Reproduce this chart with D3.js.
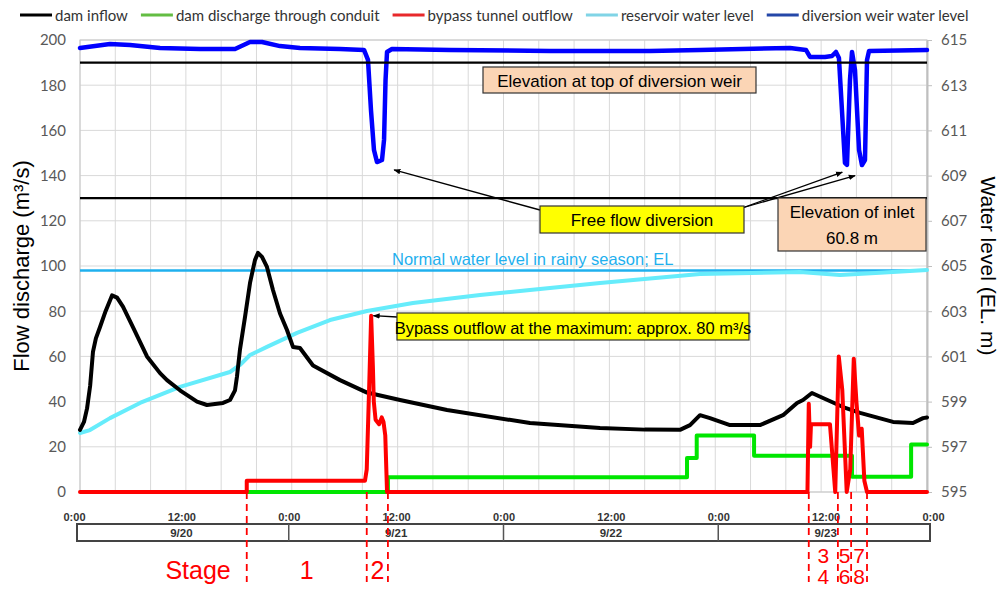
<!DOCTYPE html>
<html>
<head>
<meta charset="utf-8">
<script src="https://cdn.jsdelivr.net/npm/d3@7"></script>
<style>
  body { margin: 0; background: #fff; }
  svg { display: block; }
</style>
</head>
<body>
<svg id="chart" width="1004" height="589"></svg>
<script>
// Hours are counted from 9/20 0:00.
// Flow series in m3/s, water levels in EL. m.
const damInflow = [
  [0, 27.5], [0.45, 31], [0.8, 37], [1.15, 47], [1.47, 62], [1.8, 68], [2.27, 73],
  [2.9, 80], [3.63, 87], [4.2, 86], [4.87, 82], [6.0, 73],
  [7.59, 60], [9.07, 52.6], [9.86, 49.5], [11.33, 45], [13.26, 40], [14.39, 38.5],
  [16.21, 39.4], [17.0, 40.7], [17.57, 45], [17.79, 51], [18.13, 63], [18.7, 77.4],
  [19.27, 92.5], [19.83, 102.6], [20.17, 105.8], [20.63, 104], [21.19, 99.6],
  [21.87, 89.4], [22.67, 79], [23.46, 71.7], [24.14, 64.2], [24.93, 63.7],
  [26.41, 56], [29.47, 49.5], [32.53, 44], [36.27, 40.7], [41.6, 36.3], [51.0, 30.5],
  [58.94, 28.3], [64.0, 27.6], [68.0, 27.5], [69.14, 29.6], [70.27, 34], [71.4, 32.7],
  [73.67, 29.6], [77.07, 29.6], [79.68, 34], [81.27, 39.4], [81.95, 40.7],
  [82.96, 43.8], [84.21, 41.6], [86.48, 37.6], [88.41, 35], [92.15, 31],
  [94.41, 30.5], [95.55, 32.7], [96, 33]
];

const conduitDischarge = [
  [18.9, 0], [34.9, 0], [34.9, 6.5], [68.8, 6.5], [68.8, 15], [69.9, 15], [69.9, 25],
  [76.4, 25], [76.4, 16], [87.5, 16], [87.5, 6.7], [94.2, 6.7], [94.2, 21], [96, 21]
];

const bypassOutflow = [
  [0, 0], [18.9, 0], [18.9, 5], [32.3, 5], [32.5, 10], [32.8, 50], [33.0, 78],
  [33.2, 55], [33.3, 40], [33.5, 32], [33.9, 30], [34.2, 33], [34.4, 31], [34.6, 25],
  [34.8, 0], [82.45, 0], [82.6, 39], [82.75, 20], [82.85, 30], [85.0, 30], [85.3, 15],
  [85.6, 0], [86.0, 60], [86.4, 45], [86.9, 0], [87.3, 10], [87.7, 59], [88.0, 40],
  [88.3, 25], [88.6, 28], [88.9, 5], [89.2, 0], [96, 0]
];

const reservoirLevel = [
  [0, 597.61], [1.13, 597.74], [3.4, 598.27], [6.8, 598.94], [11.33, 599.65],
  [17.0, 600.31], [18.13, 600.62], [19.27, 601.06], [21.19, 601.42], [24.6, 602.04],
  [28.33, 602.61], [32.53, 603.01], [37.74, 603.36], [45.34, 603.72], [51.0, 603.94],
  [58.94, 604.25], [70.27, 604.65], [81.6, 604.73], [86.14, 604.6], [90.67, 604.7],
  [96, 604.82]
];

const weirLevel = [
  [0, 614.65], [3.4, 614.82], [5.67, 614.78], [9.07, 614.65], [13.6, 614.6],
  [17.57, 614.6], [19.27, 614.91], [20.63, 614.91], [22.67, 614.73], [24.93, 614.65],
  [29.47, 614.6], [32.19, 614.56], [32.64, 614.12], [32.98, 611.9], [33.32, 610.13],
  [33.66, 609.6], [34.23, 609.69], [34.46, 610.58], [34.63, 613.23], [34.8, 614.47],
  [35.36, 614.6], [41.94, 614.56], [53.27, 614.51], [64.6, 614.51], [70.27, 614.56],
  [80.47, 614.65], [82.28, 614.56], [82.74, 614.25], [84.44, 614.25], [85.23, 614.29],
  [85.68, 614.47], [86.02, 614.2], [86.36, 611.9], [86.7, 609.56], [86.93, 609.47],
  [87.27, 613.23], [87.5, 614.47], [87.84, 613.67], [88.3, 610.13], [88.63, 609.47],
  [88.97, 609.69], [89.2, 614.12], [89.43, 614.51], [96, 614.56]
];

// Reference elevations (EL. m)
const weirCrestLevel = 614;
const inletLevel = 608;
const normalRainyLevel = 604.8;

// Axis ticks and labels
const flowTicks = [0, 20, 40, 60, 80, 100, 120, 140, 160, 180, 200];
const levelTicks = [595, 597, 599, 601, 603, 605, 607, 609, 611, 613, 615];
const timeTicks = [0, 12, 24, 36, 48, 60, 72, 84, 96];
const timeTickLabels = ["0:00", "12:00", "0:00", "12:00", "0:00", "12:00", "0:00", "12:00", "0:00"];
const dayNoons = [12, 36, 60, 84];
const dayLabels = ["9/20", "9/21", "9/22", "9/23"];
const dayBreaks = [24, 48, 72];

// Operation stages: boundaries (hours) and the stage numbers between them
const stageBounds = [18.9, 32.5, 34.9, 82.6, 85.9, 87.4, 89.2];
const stageTop = ["1", "2", "", "3", "5", "7"];
const stageBottom = ["", "", "", "4", "6", "8"];

const legendItems = [
  { label: "dam inflow", color: "#000000" },
  { label: "dam discharge through conduit", color: "#63bd43" },
  { label: "bypass tunnel outflow", color: "#e8282b" },
  { label: "reservoir water level", color: "#80d4e6" },
  { label: "diversion weir water level", color: "#2447a8" }
];

// ---- layout ----
const svg = d3.select("#chart");
const plotL = 80, plotR = 927, plotT = 40, plotB = 492;

const x = d3.scaleLinear().domain([0, 96]).range([plotL, plotR]);
const yQ = d3.scaleLinear().domain([0, 200]).range([plotB, plotT]);
const yEL = d3.scaleLinear().domain([595, 615]).range([plotB, plotT]);
const xTable = d3.scaleLinear().domain([0, 96]).range([74, 933]);

const sansA = "'Liberation Sans', Arial, sans-serif";
const sansC = "Lato, 'Open Sans', sans-serif";

const defs = svg.append("defs");
defs.append("marker")
  .attr("id", "arrowHead")
  .attr("viewBox", "0 0 10 10")
  .attr("refX", 9).attr("refY", 5)
  .attr("markerWidth", 7).attr("markerHeight", 7)
  .attr("markerUnits", "userSpaceOnUse")
  .attr("orient", "auto")
  .append("path").attr("d", "M0,1 L10,5 L0,9 Z").attr("fill", "#000");

// grid
const grid = svg.append("g");
grid.selectAll("line.v").data(d3.range(0, 97, 4)).join("line")
  .attr("x1", d => x(d)).attr("x2", d => x(d))
  .attr("y1", plotT).attr("y2", plotB)
  .attr("stroke", "#d9d9d9").attr("stroke-width", 1);
grid.selectAll("line.h").data(flowTicks).join("line")
  .attr("x1", plotL).attr("x2", plotR)
  .attr("y1", d => yQ(d)).attr("y2", d => yQ(d))
  .attr("stroke", "#d9d9d9").attr("stroke-width", 1);
svg.append("rect")
  .attr("x", plotL).attr("y", plotT)
  .attr("width", plotR - plotL).attr("height", plotB - plotT)
  .attr("fill", "none").attr("stroke", "#c8c8c8").attr("stroke-width", 1);

// axes
const leftAxis = svg.append("g")
  .attr("transform", `translate(${plotL},0)`)
  .call(d3.axisLeft(yQ).tickValues(flowTicks).tickSize(0).tickPadding(14));
leftAxis.select(".domain").remove();
leftAxis.selectAll("text").attr("font-family", sansC).attr("font-size", 15).attr("fill", "#595959");

const rightAxis = svg.append("g")
  .attr("transform", `translate(${plotR},0)`)
  .call(d3.axisRight(yEL).tickValues(levelTicks).tickSize(5).tickSizeOuter(0).tickPadding(9));
rightAxis.select(".domain").attr("stroke", "#bfbfbf").attr("stroke-width", 2);
rightAxis.selectAll(".tick line").attr("stroke", "#bfbfbf");
rightAxis.selectAll("text").attr("font-family", sansC).attr("font-size", 15).attr("fill", "#595959");

svg.append("text")
  .attr("transform", `translate(21,${(plotT + plotB) / 2}) rotate(-90)`)
  .attr("text-anchor", "middle").attr("dominant-baseline", "central")
  .attr("font-family", sansA).attr("font-size", 22).attr("fill", "#000")
  .text("Flow discharge (m³/s)");
svg.append("text")
  .attr("transform", `translate(988,${(plotT + plotB) / 2}) rotate(90)`)
  .attr("text-anchor", "middle").attr("dominant-baseline", "central")
  .attr("font-family", sansA).attr("font-size", 21).attr("fill", "#000")
  .text("Water level (EL. m)");

// series
const lineQ = d3.line().x(d => x(d[0])).y(d => yQ(d[1]));
const lineEL = d3.line().x(d => x(d[0])).y(d => yEL(d[1]));

function drawSeries(data, gen, color, width) {
  svg.append("path").datum(data)
    .attr("d", gen)
    .attr("fill", "none").attr("stroke", color)
    .attr("stroke-width", width)
    .attr("stroke-linejoin", "round").attr("stroke-linecap", "round");
}

// normal water level line and its caption
svg.append("line")
  .attr("x1", plotL).attr("x2", plotR)
  .attr("y1", yEL(normalRainyLevel)).attr("y2", yEL(normalRainyLevel))
  .attr("stroke", "#1fb0ee").attr("stroke-width", 2.5);
svg.append("text")
  .attr("x", 392).attr("y", yEL(normalRainyLevel) - 6)
  .attr("font-family", sansA).attr("font-size", 16.5).attr("fill", "#1fb0ee")
  .text("Normal water level in rainy season; EL");

drawSeries(reservoirLevel, lineEL, "#66ecfb", 4);
drawSeries(conduitDischarge, lineQ, "#00e600", 4);
drawSeries(damInflow, lineQ, "#000000", 4);
drawSeries(bypassOutflow, lineQ, "#ff0000", 4);
drawSeries(weirLevel, lineEL, "#0000ff", 4.5);

// reference elevations
[weirCrestLevel, inletLevel].forEach(v => {
  svg.append("line")
    .attr("x1", plotL).attr("x2", plotR)
    .attr("y1", yEL(v)).attr("y2", yEL(v))
    .attr("stroke", "#000").attr("stroke-width", 2.2);
});

// annotation boxes
function labelBox(bx, by, bw, bh, fill, lines, size) {
  const g = svg.append("g");
  g.append("rect").attr("x", bx).attr("y", by).attr("width", bw).attr("height", bh)
    .attr("fill", fill).attr("stroke", "#333").attr("stroke-width", 1.2);
  const step = bh / lines.length;
  lines.forEach((t, i) => {
    g.append("text")
      .attr("x", bx + bw / 2).attr("y", by + step * (i + 0.5) + 1)
      .attr("text-anchor", "middle").attr("dominant-baseline", "central")
      .attr("font-family", sansA).attr("font-size", size).attr("fill", "#000")
      .text(t);
  });
}

function arrow(x1, y1, x2, y2) {
  svg.append("line")
    .attr("x1", x1).attr("y1", y1).attr("x2", x2).attr("y2", y2)
    .attr("stroke", "#000").attr("stroke-width", 1.3)
    .attr("marker-end", "url(#arrowHead)");
}

labelBox(483, 67, 273, 26, "#fbd5b5", ["Elevation at top of diversion weir"], 17);

// free flow diversion pointers to the bottoms of the weir-level dips
arrow(540, 210, x(35.6), yEL(609.25));
arrow(742, 208, x(86.4), yEL(609.15));
arrow(742, 208, x(87.85), yEL(609.0));
labelBox(540, 206, 204, 27, "#ffff00", ["Free flow diversion"], 17);

labelBox(778, 198, 148, 53, "#fbd5b5", ["Elevation of inlet", "60.8 m"], 17);

// peak of the bypass outflow
arrow(397, 317, x(33.25), yQ(78));
labelBox(397, 313, 352, 27, "#ffff00", ["Bypass outflow at the maximum: approx. 80 m³/s"], 16.5);

// time axis and date table
const timeAxis = svg.append("g")
  .attr("transform", "translate(0,510)")
  .call(d3.axisBottom(xTable).tickValues(timeTicks).tickSize(0).tickPadding(0)
    .tickFormat((d, i) => timeTickLabels[i]));
timeAxis.select(".domain").remove();
timeAxis.selectAll("text").attr("font-family", sansA).attr("font-size", 11)
  .attr("fill", "#333").attr("font-weight", "bold").attr("dy", "0.35em").attr("y", 7);

svg.append("rect")
  .attr("x", 77).attr("y", 524).attr("width", 853).attr("height", 17)
  .attr("fill", "none").attr("stroke", "#444").attr("stroke-width", 2);
svg.selectAll("line.dayBreak").data(dayBreaks).join("line")
  .attr("x1", d => xTable(d)).attr("x2", d => xTable(d))
  .attr("y1", 524).attr("y2", 541)
  .attr("stroke", "#555").attr("stroke-width", 1.5);
svg.selectAll("text.day").data(dayNoons).join("text")
  .attr("x", d => xTable(d)).attr("y", 533)
  .attr("text-anchor", "middle").attr("dominant-baseline", "central")
  .attr("font-family", sansA).attr("font-size", 11.5).attr("font-weight", "bold")
  .attr("fill", "#333")
  .text((d, i) => dayLabels[i]);

// stage boundaries and numbers
svg.selectAll("line.stage").data(stageBounds).join("line")
  .attr("x1", d => x(d)).attr("x2", d => x(d))
  .attr("y1", plotB).attr("y2", 582)
  .attr("stroke", "#ff0000").attr("stroke-width", 1.8)
  .attr("stroke-dasharray", "7,5");

svg.append("text")
  .attr("x", x(stageBounds[0]) - 16).attr("y", 579)
  .attr("text-anchor", "end")
  .attr("font-family", sansA).attr("font-size", 25).attr("fill", "#ff0000")
  .text("Stage");

stageTop.forEach((t, i) => {
  const mid = (x(stageBounds[i]) + x(stageBounds[i + 1])) / 2;
  const two = stageBottom[i] !== "";
  if (t) {
    svg.append("text").attr("x", mid).attr("y", two ? 563 : 579)
      .attr("text-anchor", "middle")
      .attr("font-family", sansA).attr("font-size", two ? 21 : 25).attr("fill", "#ff0000")
      .text(t);
  }
  if (two) {
    svg.append("text").attr("x", mid).attr("y", 584)
      .attr("text-anchor", "middle")
      .attr("font-family", sansA).attr("font-size", 21).attr("fill", "#ff0000")
      .text(stageBottom[i]);
  }
});

// legend
let lx = 20;
legendItems.forEach(item => {
  svg.append("line")
    .attr("x1", lx).attr("x2", lx + 32).attr("y1", 15).attr("y2", 15)
    .attr("stroke", item.color).attr("stroke-width", 3);
  const t = svg.append("text")
    .attr("x", lx + 35).attr("y", 15).attr("dominant-baseline", "central")
    .attr("font-family", sansC).attr("font-size", 15).attr("fill", "#333")
    .text(item.label);
  lx += 35 + t.node().getComputedTextLength() + 13;
});
</script>
</body>
</html>
